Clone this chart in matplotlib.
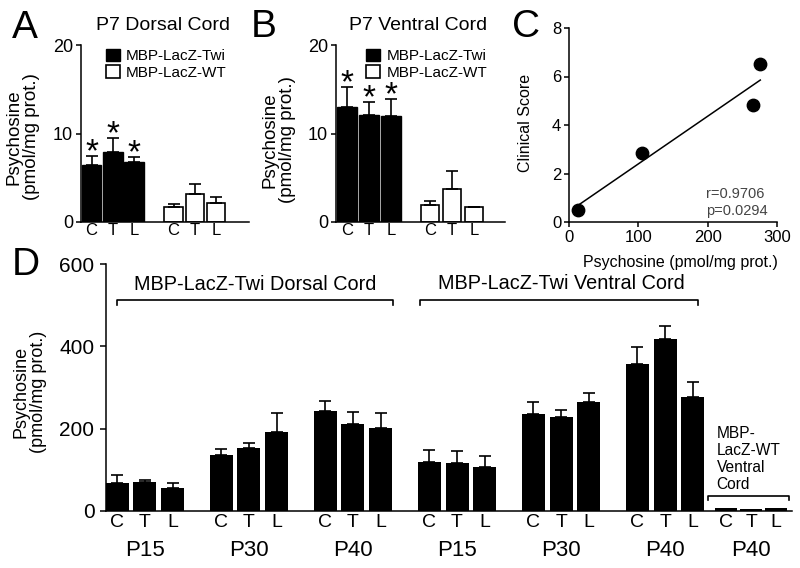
import numpy as np
import matplotlib.pyplot as plt
from matplotlib.patches import Patch

plt.rcParams['font.family'] = ['Liberation Sans', 'DejaVu Sans']

W, H = 800, 568

# P7 psychosine (pmol/mg prot.), C T L = cervical / thoracic / lumbar
regions = ['C', 'T', 'L']
a_twi = [6.4, 7.9, 6.75]
a_twi_err = [1.1, 1.6, 0.6]
a_wt = [1.7, 3.2, 2.1]
a_wt_err = [0.3, 1.05, 0.7]

b_twi = [12.95, 12.1, 12.0]
b_twi_err = [2.35, 1.45, 1.9]
b_wt = [1.9, 3.7, 1.65]
b_wt_err = [0.5, 2.1, 0.1]

# panel C: psychosine vs clinical score
c_psy = [13, 105.6, 264.8, 275.9]
c_score = [0.51, 2.83, 4.83, 6.51]

# panel D: MBP-LacZ-Twi, P15 / P30 / P40 x C T L
d_ages = ['P15', 'P30', 'P40']
d_dorsal = [68, 70, 55, 136, 152, 193, 242, 211, 202]
d_dorsal_err = [20, 5, 12, 14, 12, 45, 24, 30, 35]
d_ventral = [119, 116, 106, 235, 229, 265, 358, 418, 277]
d_ventral_err = [29, 29, 28, 30, 16, 22, 41, 32, 36]
d_wt = [7, 6, 8]


def px_axes(fig, x0, y0, x1, y1):
    return fig.add_axes([x0 / W, 1 - y1 / H, (x1 - x0) / W, (y1 - y0) / H])


def style_axes(ax):
    for s in ['top', 'right']:
        ax.spines[s].set_visible(False)
    for s in ['left', 'bottom']:
        ax.spines[s].set_linewidth(1.1)


def p7_panel(ax, twi, twi_err, wt, wt_err, wt_shift, xmax, width, leg_x):
    x_twi = np.arange(3)
    x_wt = x_twi + wt_shift
    ax.bar(x_twi, twi, width=width, color='black', edgecolor='black', linewidth=1)
    ax.errorbar(x_twi, twi, yerr=[np.zeros(3), twi_err], fmt='none', ecolor='black',
                elinewidth=1.2, capsize=4, capthick=1.2)
    ax.bar(x_wt, wt, width=width - 0.06, color='white', edgecolor='black', linewidth=1.2)
    ax.errorbar(x_wt, wt, yerr=[np.zeros(3), wt_err], fmt='none', ecolor='black',
                elinewidth=1.2, capsize=4, capthick=1.2)
    # significance stars just above the caps
    for x, v, e in zip(x_twi, twi, twi_err):
        ax.annotate('*', xy=(x, v + e), xytext=(0, -9), textcoords='offset points',
                    ha='center', va='bottom', fontsize=24)
    style_axes(ax)
    ax.set_xlim(-0.5, xmax)
    ax.set_ylim(0, 20)
    ax.set_yticks([0, 10, 20])
    ax.set_xticks(list(x_twi) + list(x_wt))
    ax.set_xticklabels(regions * 2)
    ax.tick_params(axis='x', length=0, labelsize=12, pad=1)
    ax.tick_params(axis='y', length=3.6, width=1.1, labelsize=13, pad=2)
    ax.legend(handles=[Patch(facecolor='black', edgecolor='black', label='MBP-LacZ-Twi'),
                       Patch(facecolor='white', edgecolor='black', linewidth=1.2, label='MBP-LacZ-WT')],
              loc='upper left', bbox_to_anchor=(leg_x, 0.98), frameon=False, fontsize=11,
              handlelength=0.9, handleheight=0.9, handletextpad=0.4, labelspacing=0.15,
              borderpad=0, borderaxespad=0)


fig = plt.figure(figsize=(W / 100, H / 100), dpi=100)

# A
ax_a = px_axes(fig, 81, 45, 249, 222)
p7_panel(ax_a, a_twi, a_twi_err, a_wt, a_wt_err, 3.87, 7.43, 0.92, 0.15)
fig.text(163 / W, 1 - 25 / H, 'P7 Dorsal Cord', ha='center', va='center', fontsize=14)
fig.text(23 / W, 1 - 137 / H, 'Psychosine\n(pmol/mg prot.)', rotation=90, ha='center',
         va='center', fontsize=13.5, multialignment='center', linespacing=1.05)

# B
ax_b = px_axes(fig, 336, 45, 505, 222)
p7_panel(ax_b, b_twi, b_twi_err, b_wt, b_wt_err, 3.77, 7.18, 0.9, 0.18)
fig.text(418 / W, 1 - 25 / H, 'P7 Ventral Cord', ha='center', va='center', fontsize=14)
fig.text(279 / W, 1 - 140 / H, 'Psychosine\n(pmol/mg prot.)', rotation=90, ha='center',
         va='center', fontsize=13.5, multialignment='center', linespacing=1.05)

# C
ax_c = px_axes(fig, 569, 28, 777, 222)
ax_c.scatter(c_psy, c_score, s=80, color='black', zorder=3)
slope, icpt = np.polyfit(c_psy, c_score, 1)
fit_x = np.array([8, max(c_psy)])
ax_c.plot(fit_x, slope * fit_x + icpt, color='black', linewidth=1.1)
style_axes(ax_c)
ax_c.set_xlim(0, 300)
ax_c.set_ylim(0, 8)
ax_c.set_xticks([0, 100, 200, 300])
ax_c.set_yticks([0, 2, 4, 6, 8])
ax_c.tick_params(length=3.6, width=1.1, labelsize=12, pad=2)
ax_c.text(0.66, 0.1, 'r=0.9706\np=0.0294', transform=ax_c.transAxes, fontsize=10.5,
          color='#444444', ha='left', va='center', linespacing=1.25)
fig.text(525 / W, 1 - 123 / H, 'Clinical Score', rotation=90, ha='center', va='center', fontsize=11.5)
fig.text(680 / W, 1 - 263 / H, 'Psychosine (pmol/mg prot.)', ha='center', va='center', fontsize=11.5)

# D
ax_d = px_axes(fig, 106, 264, 792, 511)
x_main = np.array([g * 3.75 + i for g in range(6) for i in range(3)])
x_wt = 21.95 + 0.9 * np.arange(3)
vals = d_dorsal + d_ventral
errs = d_dorsal_err + d_ventral_err
ax_d.bar(x_main, vals, width=0.83, color='black')
ax_d.errorbar(x_main, vals, yerr=[np.zeros(len(vals)), errs], fmt='none', ecolor='black',
              elinewidth=1.2, capsize=4.3, capthick=1.2)
ax_d.bar(x_wt, d_wt, width=0.8, color='black')
style_axes(ax_d)
ax_d.set_xlim(-0.4, 24.32)
ax_d.set_ylim(0, 600)
ax_d.set_yticks([0, 200, 400, 600])
ax_d.set_xticks(list(x_main) + list(x_wt))
ax_d.set_xticklabels(regions * 7)
ax_d.tick_params(axis='x', length=0, labelsize=14, pad=2)
ax_d.tick_params(axis='y', length=4.3, width=1.1, labelsize=15, pad=4)
group_mid = [x_main[g * 3 + 1] for g in range(6)] + [x_wt[1]]
for gx, lab in zip(group_mid, d_ages * 2 + ['P40']):
    ax_d.text(gx, -0.158, lab, transform=ax_d.get_xaxis_transform(), ha='center', va='center',
              fontsize=16)


def bracket(ax, x0, x1, y, drop):
    ax.plot([x0, x0, x1, x1], [y - drop, y, y, y - drop], color='black', linewidth=1.2,
            clip_on=False)


bracket(ax_d, x_main[0], x_main[8] + 0.45, 512, 12)
bracket(ax_d, x_main[9] - 0.35, x_main[17] + 0.2, 512, 12)
bracket(ax_d, 21.3, 24.2, 36, 10)
ax_d.text((x_main[0] + x_main[8] + 0.45) / 2, 551, 'MBP-LacZ-Twi Dorsal Cord', ha='center',
          va='center', fontsize=14.3)
ax_d.text((x_main[9] + x_main[17]) / 2, 553, 'MBP-LacZ-Twi Ventral Cord', ha='center',
          va='center', fontsize=14.3)
ax_d.text(21.6, 47, 'MBP-\nLacZ-WT\nVentral\nCord', ha='left', va='bottom', fontsize=11.2,
          linespacing=1.15)
fig.text(30 / W, 1 - 392 / H, 'Psychosine\n(pmol/mg prot.)', rotation=90, ha='center',
         va='center', fontsize=13, multialignment='center', linespacing=1.05)

# panel letters
for lab, x, y in [('A', 12, 38), ('B', 251, 37), ('C', 512, 37), ('D', 12, 275)]:
    fig.text(x / W, 1 - y / H, lab, ha='left', va='baseline', fontsize=28)

fig.savefig('out.png', dpi=100)
